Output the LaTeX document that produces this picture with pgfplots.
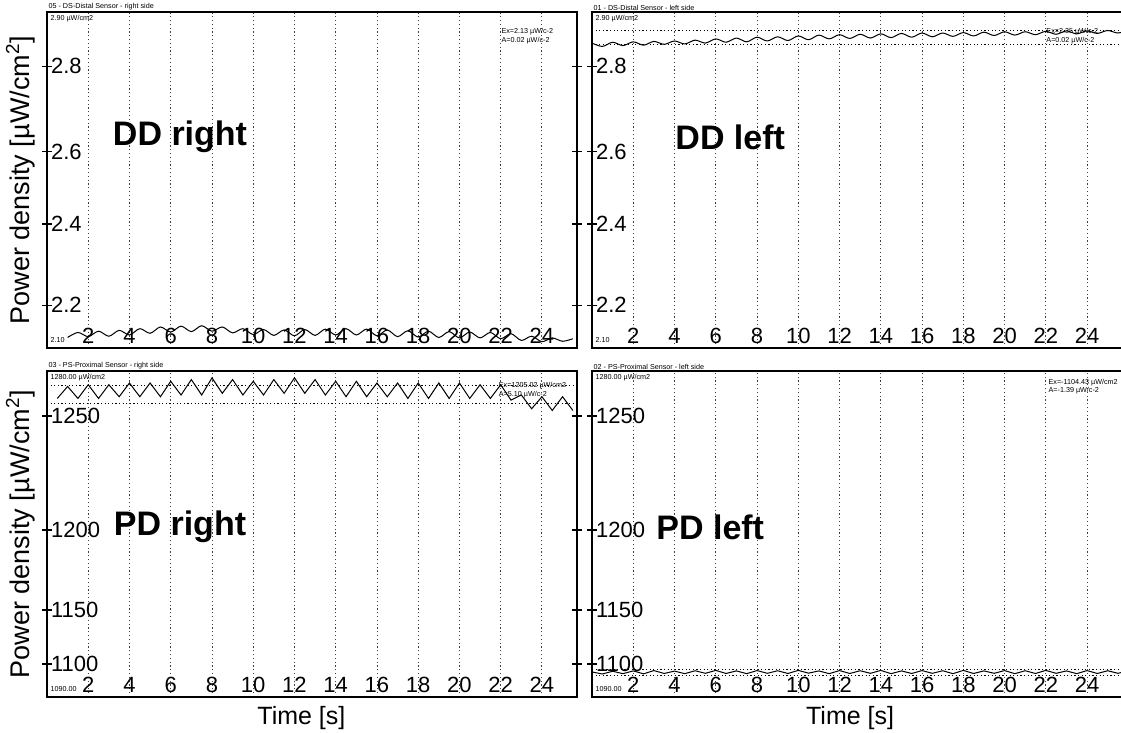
\documentclass[border=0pt]{standalone}
\usepackage{fontspec}
\setmainfont{Liberation Sans}
\usepackage{pgfplots}
\pgfplotsset{compat=1.18}
\newcommand{\tinyf}{\fontsize{3.6}{4.3}\selectfont}
\pgfplotsset{
  panel/.style={
    scale only axis, anchor=south west,
    xtick={2,4,...,24},
    xmajorgrids,
    major grid style={black!75, line width=0.45pt, dash pattern=on 0.6pt off 1.3pt},
    axis line style={line width=1.4pt},
    tick align=center,
    major tick length=5pt,
    tick style={black, line width=0.6pt},
    xtick style={draw=none},
    yticklabel pos=left,
    ticklabel style={font=\fontsize{11}{13}\selectfont},
    /pgf/number format/assume math mode=true,
    xticklabel style={anchor=south, yshift=1pt},
    yticklabel style={anchor=west, xshift=1pt},
    clip=false,
    ylabel style={font=\fontsize{13.5}{15}\selectfont, at={(axis description cs:-0.05,0.5)}, anchor=center, rotate=0},
    xlabel style={font=\fontsize{12.5}{14}\selectfont, at={(axis description cs:0.48,-0.065)}, anchor=center},
  },
  leftp/.style={width=265pt, xmin=0, xmax=25.7},
  rightp/.style={width=270pt, xmin=0, xmax=26.18, xlabel style={at={(axis description cs:0.478,-0.065)}}},
  top/.style={panel, height=168pt, ymin=2.10, ymax=2.90,
    ytick={2.202,2.395,2.567,2.771}, yticklabels={2.2,2.4,2.6,2.8}},
  bot/.style={panel, height=163pt, ymin=1090, ymax=1280,
    ytick={1109.2,1140.7,1187.3,1253.8}, yticklabels={1100,1150,1200,1250}},
  sig/.style={black, line width=0.5pt},
  ref/.style={black, line width=0.4pt, dash pattern=on 0.6pt off 1.2pt},
}
\begin{document}
\begin{tikzpicture}
\useasboundingbox (0,0) rectangle (560.5pt,366.5pt);
% ---------------- DD right
\begin{axis}[top, leftp, at={(23.5pt,192.5pt)}, ylabel={Power density [µW/cm\textsuperscript{2}]}]
\addplot[sig, smooth] coordinates {
(1.0,2.125) (1.5,2.137) (2.0,2.127) (2.5,2.140) (3.0,2.128) (3.5,2.142) (4.0,2.131) (4.5,2.146)
(5.0,2.135) (5.5,2.150) (6.0,2.138) (6.5,2.152) (7.0,2.139) (7.5,2.153) (8.0,2.140) (8.5,2.150)
(9.0,2.136) (9.5,2.146) (10.0,2.132) (10.5,2.144) (11.0,2.130) (11.5,2.143) (12.0,2.129) (12.5,2.144)
(13.0,2.130) (13.5,2.145) (14.0,2.131) (14.5,2.146) (15.0,2.131) (15.5,2.145) (16.0,2.129) (16.5,2.143)
(17.0,2.127) (17.5,2.141) (18.0,2.126) (18.5,2.140) (19.0,2.125) (19.5,2.139) (20.0,2.124) (20.5,2.138)
(21.0,2.124) (21.5,2.137) (22.0,2.122) (22.5,2.134) (23.0,2.118) (23.5,2.128) (24.0,2.115) (24.5,2.124)
(25.0,2.116) (25.5,2.122)};
\node[font=\bfseries\fontsize{17}{20}\selectfont] at (rel axis cs:0.251,0.628) {DD right};
\node[font=\tinyf, anchor=south west, inner sep=0.6pt] at (rel axis cs:0,1) {05 - DS-Distal Sensor - right side};
\node[font=\tinyf, anchor=north west, inner sep=0.8pt] at (rel axis cs:0.003,0.995) {2.90 µW/cm2};
\node[font=\tinyf, anchor=south west, inner sep=0.8pt] at (rel axis cs:0.003,0.01) {2.10};
\node[font=\tinyf, anchor=north west, align=left, inner sep=0.5pt] at (rel axis cs:0.855,0.955) {Ex=2.13 µW/c-2\\A=0.02 µW/c-2};
\end{axis}
% ---------------- DD left
\begin{axis}[top, rightp, at={(296pt,192.5pt)}]
\addplot[ref] coordinates {(0,2.857) (26.18,2.857)};
\addplot[ref] coordinates {(0,2.824) (26.18,2.824)};
\addplot[sig, smooth] coordinates {
(0.0,2.826) (0.5,2.818) (1.0,2.828) (1.5,2.820) (2.0,2.829) (2.5,2.821) (3.0,2.830) (3.5,2.823)
(4.0,2.831) (4.5,2.824) (5.0,2.833) (5.5,2.826) (6.0,2.836) (6.5,2.828) (7.0,2.838) (7.5,2.829)
(8.0,2.840) (8.5,2.831) (9.0,2.841) (9.5,2.832) (10.0,2.843) (10.5,2.834) (11.0,2.845) (11.5,2.836)
(12.0,2.846) (12.5,2.837) (13.0,2.847) (13.5,2.838) (14.0,2.848) (14.5,2.839) (15.0,2.849) (15.5,2.840)
(16.0,2.850) (16.5,2.841) (17.0,2.850) (17.5,2.842) (18.0,2.851) (18.5,2.843) (19.0,2.852) (19.5,2.844)
(20.0,2.853) (20.5,2.845) (21.0,2.853) (21.5,2.846) (22.0,2.854) (22.5,2.847) (23.0,2.855) (23.5,2.848)
(24.0,2.855) (24.5,2.849) (25.0,2.856) (25.5,2.850) (26.0,2.857)};
\node[font=\bfseries\fontsize{17}{20}\selectfont] at (rel axis cs:0.256,0.628) {DD left};
\node[font=\tinyf, anchor=south west, inner sep=0.6pt] at (rel axis cs:0,1) {01 - DS-Distal Sensor - left side};
\node[font=\tinyf, anchor=north west, inner sep=0.8pt] at (rel axis cs:0.003,0.995) {2.90 µW/cm2};
\node[font=\tinyf, anchor=south west, inner sep=0.8pt] at (rel axis cs:0.003,0.01) {2.10};
\node[font=\tinyf, anchor=north west, align=left, inner sep=0.5pt] at (rel axis cs:0.839,0.955) {Ex=2.35 µW/c-2\\A=0.02 µW/c-2};
\end{axis}
% ---------------- PD right
\begin{axis}[bot, leftp, at={(23.5pt,18pt)}, ylabel={Power density [µW/cm\textsuperscript{2}]}, xlabel={Time [s]}]
\addplot[ref] coordinates {(0,1271.8) (25.7,1271.8)};
\addplot[ref] coordinates {(0,1261.4) (25.7,1261.4)};
\addplot[sig] coordinates {
(0.5,1264) (1.0,1271) (1.5,1264) (2.0,1272) (2.5,1264) (3.0,1272) (3.5,1265) (4.0,1273)
(4.5,1265) (5.0,1273) (5.5,1265) (6.0,1274) (6.5,1266) (7.0,1275) (7.5,1266) (8.0,1276)
(8.5,1267) (9.0,1275) (9.5,1266) (10.0,1274) (10.5,1266) (11.0,1275) (11.5,1267) (12.0,1276)
(12.5,1267) (13.0,1275) (13.5,1266) (14.0,1274) (14.5,1265) (15.0,1274) (15.5,1265) (16.0,1273)
(16.5,1265) (17.0,1273) (17.5,1264) (18.0,1273) (18.5,1264) (19.0,1273) (19.5,1264) (20.0,1273)
(20.5,1264) (21.0,1272) (21.5,1264) (22.0,1272) (22.5,1263) (23.0,1266) (23.5,1258) (24.0,1265)
(24.5,1257) (25.0,1265) (25.5,1257)};
\node[font=\bfseries\fontsize{17}{20}\selectfont] at (rel axis cs:0.251,0.521) {PD right};
\node[font=\tinyf, anchor=south west, inner sep=0.6pt] at (rel axis cs:0,1) {03 - PS-Proximal Sensor - right side};
\node[font=\tinyf, anchor=north west, inner sep=0.8pt] at (rel axis cs:0.003,0.995) {1280.00 µW/cm2};
\node[font=\tinyf, anchor=south west, inner sep=0.8pt] at (rel axis cs:0.003,0.01) {1090.00};
\node[font=\tinyf, anchor=north west, align=left, inner sep=0.5pt] at (rel axis cs:0.85,0.969) {Ex=1205.02 µW/cm2\\A=5.10 µW/c-2};
\end{axis}
% ---------------- PD left
\begin{axis}[bot, rightp, at={(296pt,18pt)}, xlabel={Time [s]}]
\addplot[ref] coordinates {(0,1106.0) (26.18,1106.0)};
\addplot[ref] coordinates {(0,1102.6) (26.18,1102.6)};
\addplot[sig] coordinates {
(0.0,1104.6) (0.5,1103.4) (1.0,1105.0) (1.5,1103.6) (2.0,1105.2) (2.5,1103.5) (3.0,1105.4) (3.5,1103.7)
(4.0,1105.1) (4.5,1103.6) (5.0,1105.3) (5.5,1103.8) (6.0,1105.5) (6.5,1103.7) (7.0,1105.2) (7.5,1103.6)
(8.0,1105.4) (8.5,1103.8) (9.0,1105.3) (9.5,1103.7) (10.0,1105.5) (10.5,1103.9) (11.0,1105.2) (11.5,1103.6)
(12.0,1105.4) (12.5,1103.7) (13.0,1105.3) (13.5,1103.8) (14.0,1105.5) (14.5,1103.6) (15.0,1105.2) (15.5,1103.7)
(16.0,1105.4) (16.5,1103.8) (17.0,1105.3) (17.5,1103.6) (18.0,1105.5) (18.5,1103.7) (19.0,1105.2) (19.5,1103.8)
(20.0,1105.4) (20.5,1103.6) (21.0,1105.3) (21.5,1103.7) (22.0,1105.5) (22.5,1103.8) (23.0,1105.2) (23.5,1103.6)
(24.0,1105.4) (24.5,1103.7) (25.0,1105.3) (25.5,1103.8) (26.0,1105.2)};
\node[font=\bfseries\fontsize{17}{20}\selectfont] at (rel axis cs:0.219,0.521) {PD left};
\node[font=\tinyf, anchor=south west, inner sep=0.6pt] at (rel axis cs:0,1) {02 - PS-Proximal Sensor - left side};
\node[font=\tinyf, anchor=north west, inner sep=0.8pt] at (rel axis cs:0.003,0.995) {1280.00 µW/cm2};
\node[font=\tinyf, anchor=south west, inner sep=0.8pt] at (rel axis cs:0.003,0.01) {1090.00};
\node[font=\tinyf, anchor=north west, align=left, inner sep=0.5pt] at (rel axis cs:0.843,0.98) {Ex=-1104.43 µW/cm2\\A=-1.39 µW/c-2};
\end{axis}
\end{tikzpicture}
\end{document}
